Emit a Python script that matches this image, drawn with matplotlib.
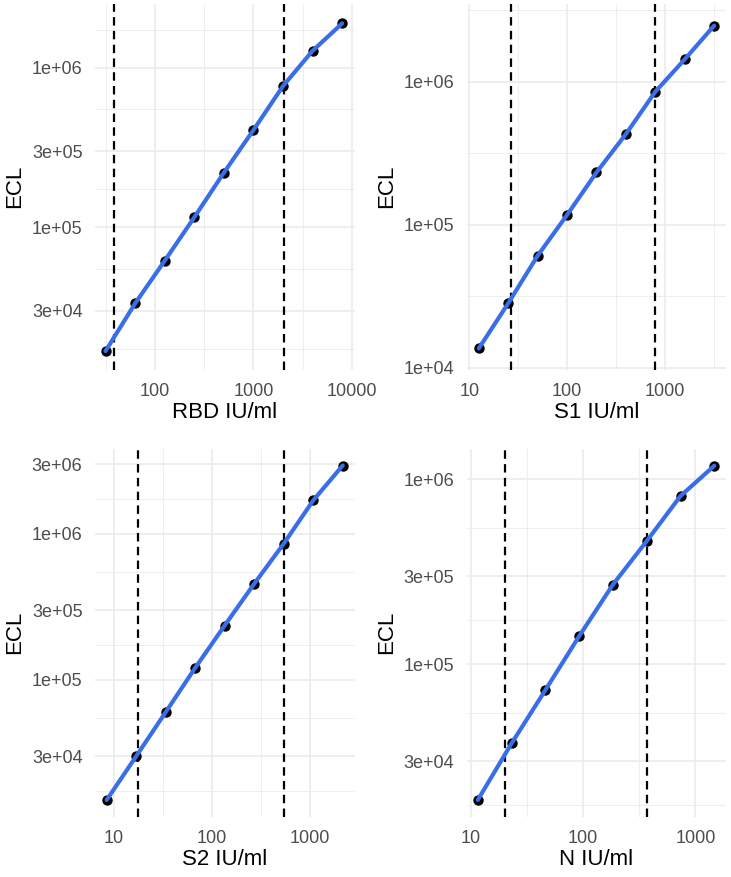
import numpy as np
import matplotlib
matplotlib.use('Agg')
import matplotlib.pyplot as plt
from matplotlib.ticker import FixedLocator, NullFormatter

plt.rcParams['font.family'] = ['Liberation Sans', 'DejaVu Sans']

# standard curves
rbd_x = [31.25, 62.5, 125, 250, 500, 1000, 2000, 4000, 8000]
rbd_y = [16800, 33400, 61800, 115600, 220000, 407000, 768000, 1277000, 1895000]
rbd_cut = [38.3, 2030]

s1_x = [12.5, 25, 50, 100, 200, 400, 800, 1600, 3200]
s1_y = [13650, 28200, 60700, 117000, 232000, 430000, 851000, 1433000, 2466000]
s1_cut = [26.5, 800]

s2_x = [8.4, 16.8, 33.6, 67.2, 134, 269, 538, 1075, 2150]
s2_y = [15060, 30000, 60100, 120800, 235000, 455000, 855000, 1690000, 2930000]
s2_cut = [17.7, 538]

n_x = [11.5, 23, 46, 92, 184, 368, 736, 1472]
n_y = [18500, 37400, 72600, 142000, 270000, 464000, 813000, 1185000]
n_cut = [19.9, 370]

xlabels = ['RBD IU/ml', 'S1 IU/ml', 'S2 IU/ml', 'N IU/ml']

# axis setup (log10 limits, breaks)
xlims = [(1.388, 4.028), (0.971, 3.627), (0.805, 3.453), (0.96, 3.272)]
ylims = [(4.107, 6.402), (3.984, 6.547), (4.064, 6.580), (4.177, 6.164)]
xbreaks = [[100, 1000, 10000], [10, 100, 1000], [10, 100, 1000], [10, 100, 1000]]
ybreaks = [[1e4, 3e4, 1e5, 3e5, 1e6, 3e6],
           [1e4, 1e5, 1e6, 1e7],
           [1e4, 3e4, 1e5, 3e5, 1e6, 3e6, 1e7],
           [1e4, 3e4, 1e5, 3e5, 1e6, 3e6]]

panels = [(rbd_x, rbd_y, rbd_cut), (s1_x, s1_y, s1_cut),
          (s2_x, s2_y, s2_cut), (n_x, n_y, n_cut)]

W, H = 731, 877
fig = plt.figure(figsize=(W / 100, H / 100), dpi=100)
fig.patch.set_facecolor('white')

lefts = [95, 466.5, 95, 466.5]
tops = [3.5, 3.5, 449, 449]
bottoms = [370, 370, 816.6, 816.6]
width = 259.5

grid_col = '#EBEBEB'


def sci(v):
    s = '%.0e' % v
    return s


for i, (x, y, cut) in enumerate(panels):
    ax = fig.add_axes([lefts[i] / W, 1 - bottoms[i] / H, width / W, (bottoms[i] - tops[i]) / H])
    ax.set_xscale('log')
    ax.set_yscale('log')
    ax.set_xlim(10 ** xlims[i][0], 10 ** xlims[i][1])
    ax.set_ylim(10 ** ylims[i][0], 10 ** ylims[i][1])

    xb = xbreaks[i]
    yb = ybreaks[i]
    lxb = np.log10([xb[0] / 10] + xb + [xb[-1] * 10])
    xminor = 10 ** ((lxb[:-1] + lxb[1:]) / 2)
    lyb = np.log10(yb)
    yminor = 10 ** ((lyb[:-1] + lyb[1:]) / 2)

    for v in xminor:
        ax.axvline(v, color=grid_col, lw=0.6, zorder=0)
    for v in yminor:
        ax.axhline(v, color=grid_col, lw=0.6, zorder=0)
    for v in xb:
        ax.axvline(v, color=grid_col, lw=1.2, zorder=0)
    for v in yb:
        ax.axhline(v, color=grid_col, lw=1.2, zorder=0)

    ax.xaxis.set_major_locator(FixedLocator(xb))
    ax.xaxis.set_minor_locator(FixedLocator([]))
    ax.xaxis.set_minor_formatter(NullFormatter())
    ax.set_xticklabels([str(int(v)) for v in xb])
    ax.yaxis.set_major_locator(FixedLocator(yb))
    ax.yaxis.set_minor_locator(FixedLocator([]))
    ax.yaxis.set_minor_formatter(NullFormatter())
    ax.set_yticklabels([sci(v) for v in yb])

    ax.tick_params(axis='both', length=0, labelsize=13, labelcolor='#4D4D4D')
    ax.tick_params(axis='x', pad=9.5)
    ax.tick_params(axis='y', pad=9)
    for sp in ax.spines.values():
        sp.set_visible(False)

    for c in cut:
        ax.axvline(c, color='black', lw=1.6, dashes=(3.8, 2.4), zorder=2)

    ax.scatter(x, y, s=42, color='black', zorder=3)
    ax.plot(x, y, color='#3A6EE8', lw=3, zorder=4, solid_capstyle='round',
            solid_joinstyle='round')

    ax.set_xlabel(xlabels[i], fontsize=16)
    ax.set_ylabel('ECL', fontsize=16)
    ax.xaxis.set_label_coords(0.5, -42.5 / (bottoms[i] - tops[i]))
    ax.xaxis.label.set_verticalalignment('center')
    ax.yaxis.set_label_coords(-80 / width, 0.5)
    ax.yaxis.label.set_verticalalignment('center')

fig.savefig('out.png', dpi=100)
